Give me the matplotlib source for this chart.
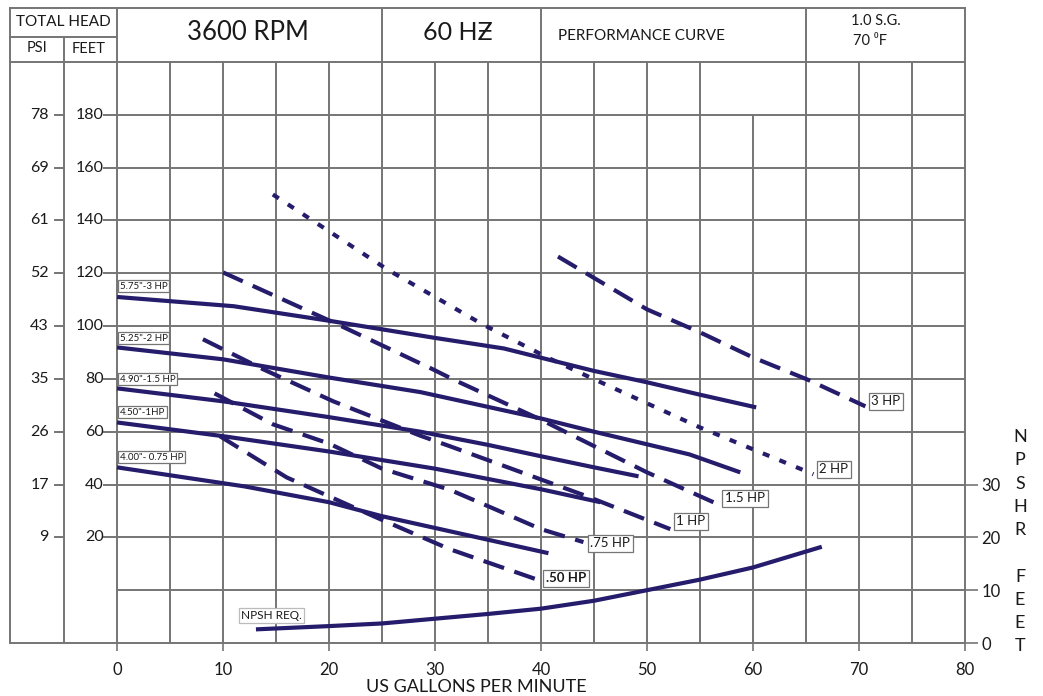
import matplotlib
matplotlib.use('Agg')
import matplotlib.pyplot as plt

plt.rcParams['font.family'] = ['Lato', 'DejaVu Sans']

NAVY = '#251c6c'
GRID = '#757575'
TXT = '#1a1a1a'

# ---------------- data ----------------
imp_labels = ['5.75"-3 HP', '5.25"-2 HP', '4.90"-1.5 HP', '4.50"-1HP', '4.00"- 0.75 HP']
imp_label_y = [115, 95.3, 79.8, 67.3, 50.3]
imp_gpm = [
    [0, 11, 20, 30, 36.5, 45, 50, 55, 60.3],
    [0, 10, 20, 28.6, 40, 45, 54, 58.8],
    [0, 10, 20, 28.6, 35, 40, 45, 49.2],
    [0, 10, 20, 30, 40, 45.6],
    [0, 10, 12, 20, 25, 31.4, 40.7],
]
imp_head = [
    [111, 107.5, 102, 95.5, 91.5, 83, 78.7, 74, 69.2],
    [91.9, 87.4, 80.5, 75, 65, 60, 51.4, 44.6],
    [76.4, 71.5, 65.5, 60, 55, 50.7, 46.5, 43.1],
    [63.5, 58.3, 52.5, 46, 38.2, 33.3],
    [46.5, 40.5, 39.3, 33.3, 28, 22.3, 14],
]

hp_labels = ['.50 HP', '.75 HP', '1 HP', '1.5 HP', '2 HP', '3 HP']
hp_label_pos = [(40.1, 4.5), (44.3, 17.8), (52.4, 26.1), (57.0, 34.8), (65.9, 45.8), (70.8, 71.5)]
hp_gpm = [
    [9.7, 16, 24.2, 31.4, 40],
    [9.2, 14.7, 20, 25, 31.4, 35, 40, 44],
    [8.1, 13.8, 20.4, 28.6, 31.4, 44.3, 52.2],
    [10, 20.4, 29.8, 31.7, 39.9, 50, 56.7],
    [14.7, 25.5, 34.5, 40.6, 44.6, 55, 65.7],
    [41.6, 50, 55, 60, 65.1, 70.6],
]
hp_head = [
    [58.3, 42.7, 28, 15.5, 3.5],
    [74.5, 62.8, 55.5, 46, 38, 31.8, 23.1, 18.2],
    [95, 83.6, 71.5, 58.5, 54.5, 35.6, 23.1],
    [120.3, 101.4, 83.6, 79.8, 64.7, 44.6, 32.5],
    [149.8, 121.4, 100.6, 88.1, 80.6, 61.6, 43.9],
    [126.3, 106.3, 97.6, 88.1, 79.8, 69.6],
]
hp_dotted = [False, False, False, False, True, False]

npsh_gpm = [13.3, 20, 25, 30, 35, 40, 45, 50, 55, 60, 66.3]
npsh_ft = [2.6, 3.2, 3.7, 4.6, 5.5, 6.5, 8, 10, 12, 14.3, 18.1]

feet_ticks = [180, 160, 140, 120, 100, 80, 60, 40, 20]
psi_ticks = [78, 69, 61, 52, 43, 35, 26, 17, 9]
gpm_ticks = [0, 10, 20, 30, 40, 50, 60, 70, 80]
npsh_ticks = [0, 10, 20, 30]

# ---------------- figure ----------------
W, H = 1043, 696
fig = plt.figure(figsize=(W / 100, H / 100), dpi=100)
XL, XR = -10.1, 80.0
YB, YT = -20.0, 220.4
ax = fig.add_axes([10 / W, (H - 643) / H, 955 / W, 635 / H])
ax.set_xlim(XL, XR)
ax.set_ylim(YB, YT)
for s in ax.spines.values():
    s.set_visible(False)

glw = 1.4
def hl(y, x0, x1, lw=glw):
    ax.plot([x0, x1], [y, y], color=GRID, lw=lw, clip_on=False, zorder=1, solid_capstyle='projecting')
def vl(x, y0, y1, lw=glw):
    ax.plot([x, x], [y0, y1], color=GRID, lw=lw, clip_on=False, zorder=1, solid_capstyle='projecting')

# borders
hl(YT, XL, XR); hl(YB, XL, XR)
vl(XL, YB, YT); vl(XR, YB, YT)
# header lines
hl(200, XL, XR)
hl(209.6, XL, 0)
vl(-5, YB, 209.6)
for xv in [0, 25, 40, 65]:
    vl(xv, YB, YT)
for xv in [5, 10, 15, 20, 30, 35, 45, 50, 55, 70, 75]:
    vl(xv, YB, 200)
vl(60, YB, 180)
for yv in feet_ticks + [0]:
    hl(yv, 0, XR)

# left tick labels
for f, p in zip(feet_ticks, psi_ticks):
    ax.plot([-5.9, -5], [f, f], color=GRID, lw=glw, clip_on=False)
    ax.plot([-1.2, 0], [f, f], color=GRID, lw=glw, clip_on=False)
    ax.text(-6.45, f, str(p), ha='right', va='center', fontsize=11.5, color=TXT)
    ax.text(-1.25, f, str(f), ha='right', va='center', fontsize=11.5, color=TXT)

# bottom ticks
ax.set_xticks(gpm_ticks)
ax.set_xticklabels([str(g) for g in gpm_ticks], fontsize=12, color=TXT)
ax.tick_params(axis='x', direction='out', length=6, width=1.2, color=GRID, pad=8)
ax.set_yticks([])

# impeller curves
for g, h, lab, ly in zip(imp_gpm, imp_head, imp_labels, imp_label_y):
    ax.plot(g, h, color=NAVY, lw=3, solid_capstyle='butt', zorder=3)
    ax.text(0.25, ly, lab, ha='left', va='center', fontsize=7, color=TXT, zorder=5,
            bbox=dict(boxstyle='square,pad=0.15', fc='white', ec=GRID, lw=0.9))

# HP lines
for g, h, lab, pos, dot in zip(hp_gpm, hp_head, hp_labels, hp_label_pos, hp_dotted):
    ln, = ax.plot(g, h, color=NAVY, lw=3, zorder=3)
    if dot:
        ln.set_dashes((1.7, 2.6))
    else:
        ln.set_dashes((5.2, 2.6))
    bold = lab == '.50 HP'
    ax.text(pos[0] + 0.35, pos[1], lab, ha='left', va='center', fontsize=9.5, color=TXT,
            fontweight='bold' if bold else 'normal', zorder=5,
            bbox=dict(boxstyle='square,pad=0.2', fc='white', ec=GRID, lw=0.9))

# NPSH axis
ax2 = ax.twinx()
ax2.set_ylim(0, (YT - YB) / 2)
for s in ax2.spines.values():
    s.set_visible(False)
ax2.plot(npsh_gpm, npsh_ft, color=NAVY, lw=3, zorder=3)
ax2.set_yticks(npsh_ticks)
ax2.set_yticklabels([str(n) for n in npsh_ticks], fontsize=12, color=TXT)
ax2.tick_params(axis='y', direction='out', length=9, width=1.2, color=GRID, pad=3)
ax2.text(11.7, 5.2, 'NPSH REQ.', ha='left', va='center', fontsize=8.5, color=TXT,
         bbox=dict(boxstyle='square,pad=0.15', fc='white', ec='#bbbbbb', lw=0.9))

# header texts
def ftext(px, py, s, **kw):
    fig.text(px / W, 1 - py / H, s, **kw)

ftext(63, 22, 'TOTAL HEAD', ha='center', va='center', fontsize=11, color=TXT)
ftext(37, 48, 'PSI', ha='center', va='center', fontsize=10.5, color=TXT)
ftext(89, 49, 'FEET', ha='center', va='center', fontsize=10.5, color=TXT)
ftext(248, 33, '3600 RPM', ha='center', va='center', fontsize=18.5, color=TXT)
ftext(458, 33, '60 H\u01b5', ha='center', va='center', fontsize=18, color=TXT)
ftext(558, 36, 'PERFORMANCE CURVE', ha='left', va='center', fontsize=11, color=TXT)
ftext(876, 21, '1.0 S.G.', ha='center', va='center', fontsize=10.5, color=TXT)
ftext(870, 41, '70 \u2070F', ha='center', va='center', fontsize=10.5, color=TXT)
ftext(476, 687, 'US GALLONS PER MINUTE', ha='center', va='center', fontsize=13, color=TXT)

for ch, py in zip('NPSHR', [437, 460, 484, 507, 530]):
    ftext(1020, py, ch, ha='center', va='center', fontsize=13, color=TXT)
for ch, py in zip('FEET', [577, 600, 623, 646]):
    ftext(1020, py, ch, ha='center', va='center', fontsize=13, color=TXT)

fig.savefig('out.png', dpi=100, facecolor='white')
